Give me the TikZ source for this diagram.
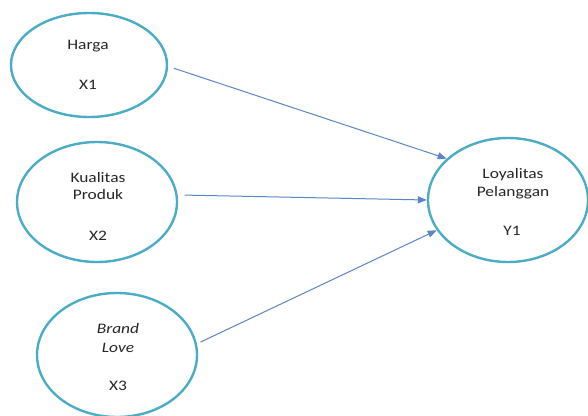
\documentclass[tikz,border=0pt]{standalone}
\usepackage{fontspec}
\setmainfont{Carlito}[FakeStretch=1.2]
\usetikzlibrary{shapes.geometric,arrows.meta}
\definecolor{ellblue}{HTML}{4BACC6}
\definecolor{arrblue}{HTML}{5A86C4}
\definecolor{txtgray}{HTML}{262626}
\tikzset{
  varell/.style={ellipse, draw=ellblue, line width=2.4pt, inner sep=0pt},
  lbl/.style={anchor=base, inner sep=0pt, font=\fontsize{14.5}{17}\selectfont, text=txtgray},
  conn/.style={draw=arrblue, line width=1pt, -{Triangle[length=9pt,width=7pt]}}
}
\begin{document}
\begin{tikzpicture}[x=1pt,y=-1pt]
\useasboundingbox (0,0) rectangle (588,415);
\node[varell, minimum width=156pt, minimum height=104pt] (e1) at (89,65) {};
\node[varell, minimum width=160pt, minimum height=120pt] (e2) at (97,202) {};
\node[varell, minimum width=160pt, minimum height=124pt] (e3) at (117,355) {};
\node[varell, minimum width=160pt, minimum height=124pt] (e4) at (508,200) {};

\node[lbl] (t1a) at (88,49) {Harga};
\node[lbl] (t1b) at (88,89) {X1};
\node[lbl] (t2a) at (98,182) {Kualitas};
\node[lbl] (t2b) at (98,199) {Produk};
\node[lbl] (t2c) at (98,240) {X2};
\node[lbl] (t3a) at (118,333) {\itshape Brand};
\node[lbl] (t3b) at (118,352) {\itshape Love};
\node[lbl] (t3c) at (118,390) {X3};
\node[lbl] (t4a) at (513,178) {Loyalitas};
\node[lbl] (t4b) at (513,196) {Pelanggan};
\node[lbl] (t4c) at (512,235) {Y1};

\draw[conn, shorten <=6pt] (e1.-1.5) -- (e4.146);
\draw[conn, shorten <=7pt] (e2.5) -- (e4.180);
\draw[conn, shorten <=4pt] (e3.8) -- (e4.203);
\end{tikzpicture}
\end{document}
